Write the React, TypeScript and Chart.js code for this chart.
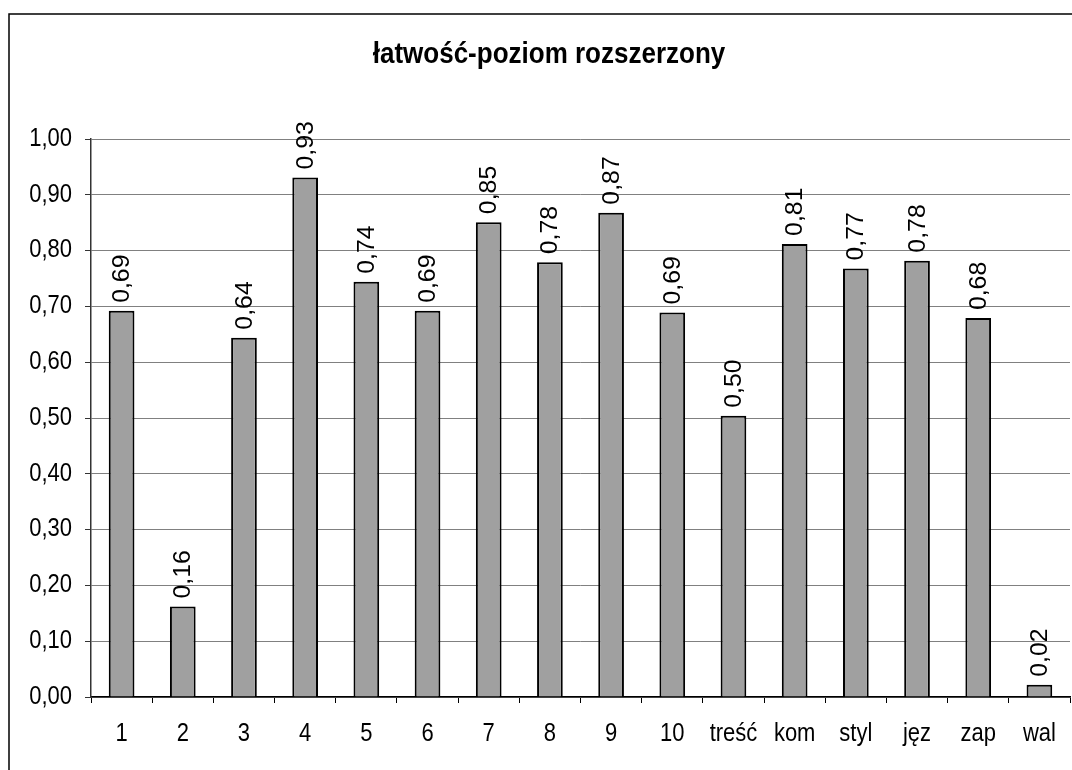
import React, { useEffect, useRef } from "react";
import { Chart, registerables } from "chart.js";

Chart.register(...registerables);

const categories = ["1", "2", "3", "4", "5", "6", "7", "8", "9", "10", "treść", "kom", "styl", "jęz", "zap", "wal"];
const values = [0.692, 0.162, 0.644, 0.931, 0.744, 0.692, 0.851, 0.779, 0.868, 0.689, 0.504, 0.812, 0.768, 0.782, 0.679, 0.022];
const titleText = "łatwość-poziom rozszerzony";
const yMin = 0;
const yMax = 1;
const yStep = 0.1;

const fmt = (v: number) => v.toFixed(2).replace(".", ",");
const FONT = "'Liberation Sans', Arial, sans-serif";
const STRETCH = 1.13;

export default function App() {
  const ref = useRef<HTMLCanvasElement | null>(null);
  useEffect(() => {
    if (!ref.current) return;
    const framePlugin = {
      id: "frame",
      beforeDraw(chart: any) {
        const ctx = chart.ctx;
        ctx.save();
        ctx.fillStyle = "#fff";
        ctx.fillRect(0, 0, chart.width, chart.height);
        ctx.strokeStyle = "#000";
        ctx.lineWidth = 1.5;
        ctx.strokeRect(9, 14, 1200, 900);
        ctx.fillStyle = "#000";
        ctx.font = `bold 26px ${FONT}`;
        ctx.textAlign = "center";
        ctx.textBaseline = "middle";
        ctx.translate(549, 55);
        ctx.scale(1, 1.1);
        ctx.fillText(titleText, 0, 0);
        ctx.restore();
      },
    };
    const labelPlugin = {
      id: "vlabels",
      afterDatasetsDraw(chart: any) {
        const ctx = chart.ctx;
        const meta = chart.getDatasetMeta(0);
        ctx.save();
        ctx.fillStyle = "#000";
        ctx.font = `22px ${FONT}`;
        ctx.textAlign = "left";
        ctx.textBaseline = "middle";
        meta.data.forEach((bar: any, i: number) => {
          ctx.save();
          ctx.translate(bar.x + 1, bar.y - 8);
          ctx.rotate(-Math.PI / 2);
          ctx.scale(STRETCH, 1.08);
          ctx.fillText(fmt(values[i]), 0, 0);
          ctx.restore();
        });
        ctx.restore();
      },
    };
    const tickPlugin = {
      id: "ticktext",
      afterDraw(chart: any) {
        const ctx = chart.ctx;
        const xs = chart.scales.x;
        const ys = chart.scales.y;
        ctx.save();
        ctx.fillStyle = "#000";
        ctx.font = `22px ${FONT}`;
        ctx.textBaseline = "middle";
        ctx.textAlign = "right";
        ys.ticks.forEach((t: any) => {
          const y = ys.getPixelForValue(t.value);
          ctx.save();
          ctx.translate(ys.right - 19, y);
          ctx.scale(1, STRETCH);
          ctx.fillText(fmt(Number(t.value)), 0, 0);
          ctx.restore();
        });
        ctx.textAlign = "center";
        categories.forEach((c, i) => {
          const x = xs.getPixelForValue(i);
          ctx.save();
          ctx.translate(x, xs.top + 37);
          ctx.scale(1, STRETCH);
          ctx.fillText(c, 0, 0);
          ctx.restore();
        });
        ctx.restore();
      },
    };
    const chart = new Chart(ref.current, {
      type: "bar",
      data: {
        labels: categories,
        datasets: [
          {
            data: values,
            backgroundColor: "#A0A0A0",
            borderColor: "#000",
            borderWidth: 2,
            categoryPercentage: 1,
            barPercentage: 0.42,
          },
        ],
      },
      options: {
        animation: false,
        responsive: false,
        maintainAspectRatio: false,
        layout: { padding: { top: 139, left: 0, right: 2, bottom: 0 } },
        plugins: { legend: { display: false }, tooltip: { enabled: false }, title: { display: false } },
        scales: {
          x: {
            afterFit(scale: any) {
              scale.height = 73;
            },
            grid: { display: true, drawOnChartArea: false, drawTicks: true, tickLength: 6, offset: true, color: "#000", lineWidth: 1 },
            border: { display: true, color: "#000", width: 1.5 },
            ticks: { color: "rgba(0,0,0,0)", font: { family: FONT, size: 22 }, padding: 15, maxRotation: 0, autoSkip: false },
          },
          y: {
            min: yMin,
            max: yMax,
            afterFit(scale: any) {
              scale.width = 91;
            },
            grid: { color: "#808080", lineWidth: 1, tickLength: 6, tickColor: "#333" },
            border: { display: true, color: "#333", width: 1.5 },
            ticks: {
              stepSize: yStep,
              color: "rgba(0,0,0,0)",
              font: { family: FONT, size: 22 },
              padding: 12,
              callback: (v: any) => fmt(Number(v)),
            },
          },
        },
      },
      plugins: [framePlugin, labelPlugin, tickPlugin],
    });
    return () => chart.destroy();
  }, []);
  return (
    <div style={{ position: "absolute", left: 0, top: 0, width: 1072, height: 770, background: "#fff" }}>
      <canvas ref={ref} width={1072} height={770} style={{ display: "block", width: 1072, height: 770 }} />
    </div>
  );
}
